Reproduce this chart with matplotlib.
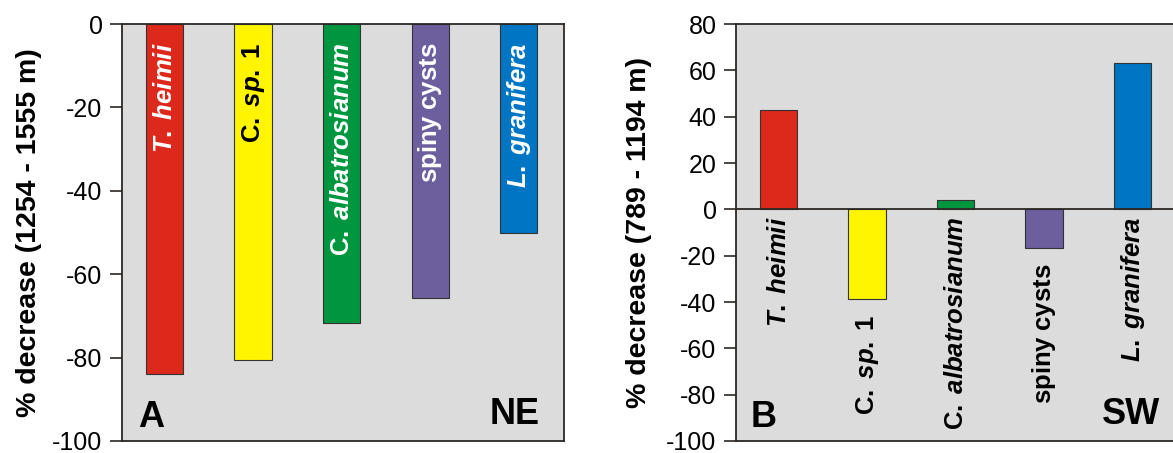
import matplotlib.pyplot as plt
import numpy as np

plt.rcParams['font.family'] = ['Liberation Sans', 'DejaVu Sans']
plt.rcParams['axes.unicode_minus'] = False
plt.rcParams['mathtext.fontset'] = 'custom'
plt.rcParams['mathtext.rm'] = 'Liberation Sans:bold'
plt.rcParams['mathtext.it'] = 'Liberation Sans:bold:italic'
plt.rcParams['mathtext.bf'] = 'Liberation Sans:bold'

# data
taxa = ["T. heimii", "C. sp. 1", "C. albatrosianum", "spiny cysts", "L. granifera"]
taxa_labels = [r"$\mathit{T.\;heimii}$", r"$\mathrm{C.\;}\mathit{sp.}\mathrm{\;1}$",
               r"$\mathrm{C.\;}\mathit{albatrosianum}$", r"$\mathrm{spiny\;cysts}$",
               r"$\mathit{L.\;granifera}$"]
ne_values = [-84, -80.5, -71.7, -65.7, -50]
sw_values = [43, -38.5, 4, -16.5, 63]
colors = ["#dc291b", "#fff500", "#00963f", "#6d5e9e", "#0075c4"]
ne_text_colors = ["white", "black", "white", "white", "white"]

bg = "#dcdcdc"
spine_col = "#2b2725"

fig = plt.figure(figsize=(11.73, 4.53), dpi=100)
ax1 = fig.add_axes([0.104, 0.0265, 0.3768, 0.9205])
ax2 = fig.add_axes([0.6275, 0.0265, 0.3765, 0.9205])

x = np.arange(len(taxa))


def style(ax, ylim, ticks, ylabel, lx):
    ax.set_facecolor(bg)
    ax.set_ylim(*ylim)
    ax.set_xlim(-0.48, 4.51)
    ax.set_yticks(ticks)
    ax.set_xticks([])
    ax.tick_params(axis='y', direction='out', length=9, width=1.2,
                   color=spine_col, labelsize=18, pad=5)
    for s in ax.spines.values():
        s.set_color(spine_col)
        s.set_linewidth(1.3)
    ax.set_ylabel(ylabel, fontsize=20.5, fontweight='bold')
    ax.yaxis.set_label_coords(lx, 0.5)


# panel A
ax1.bar(x, ne_values, width=0.42, color=colors, edgecolor="#333333", linewidth=0.8, zorder=2)
style(ax1, (-100, 0), np.arange(-100, 1, 20), "% decrease (1254 - 1555 m)", -0.181)
for i, lab in enumerate(taxa_labels):
    ax1.text(x[i], -4.5, lab, rotation=90, ha='center', va='top',
             fontsize=18.5, color=ne_text_colors[i], zorder=3)
ax1.text(0.036, 0.034, "A", transform=ax1.transAxes, fontsize=26,
         fontweight='bold', ha='left', va='baseline')
ax1.text(0.944, 0.041, "NE", transform=ax1.transAxes, fontsize=26,
         fontweight='bold', ha='right', va='baseline')

# panel B
ax2.bar(x, sw_values, width=0.42, color=colors, edgecolor="#333333", linewidth=0.8, zorder=2)
ax2.axhline(0, color=spine_col, linewidth=1.3, zorder=3)
style(ax2, (-100, 80), np.arange(-100, 81, 20), "% decrease (789 - 1194 m)", -0.190)
for i, lab in enumerate(taxa_labels):
    v = sw_values[i]
    top = min(0, v) - (3 if v >= 0 else 7)
    ax2.text(x[i], top, lab, rotation=90, ha='center', va='top',
             fontsize=18.5, color='black', zorder=3)
ax2.text(0.032, 0.034, "B", transform=ax2.transAxes, fontsize=26,
         fontweight='bold', ha='left', va='baseline')
ax2.text(0.961, 0.041, "SW", transform=ax2.transAxes, fontsize=26,
         fontweight='bold', ha='right', va='baseline')

fig.savefig("out.png", dpi=100, facecolor='white')
